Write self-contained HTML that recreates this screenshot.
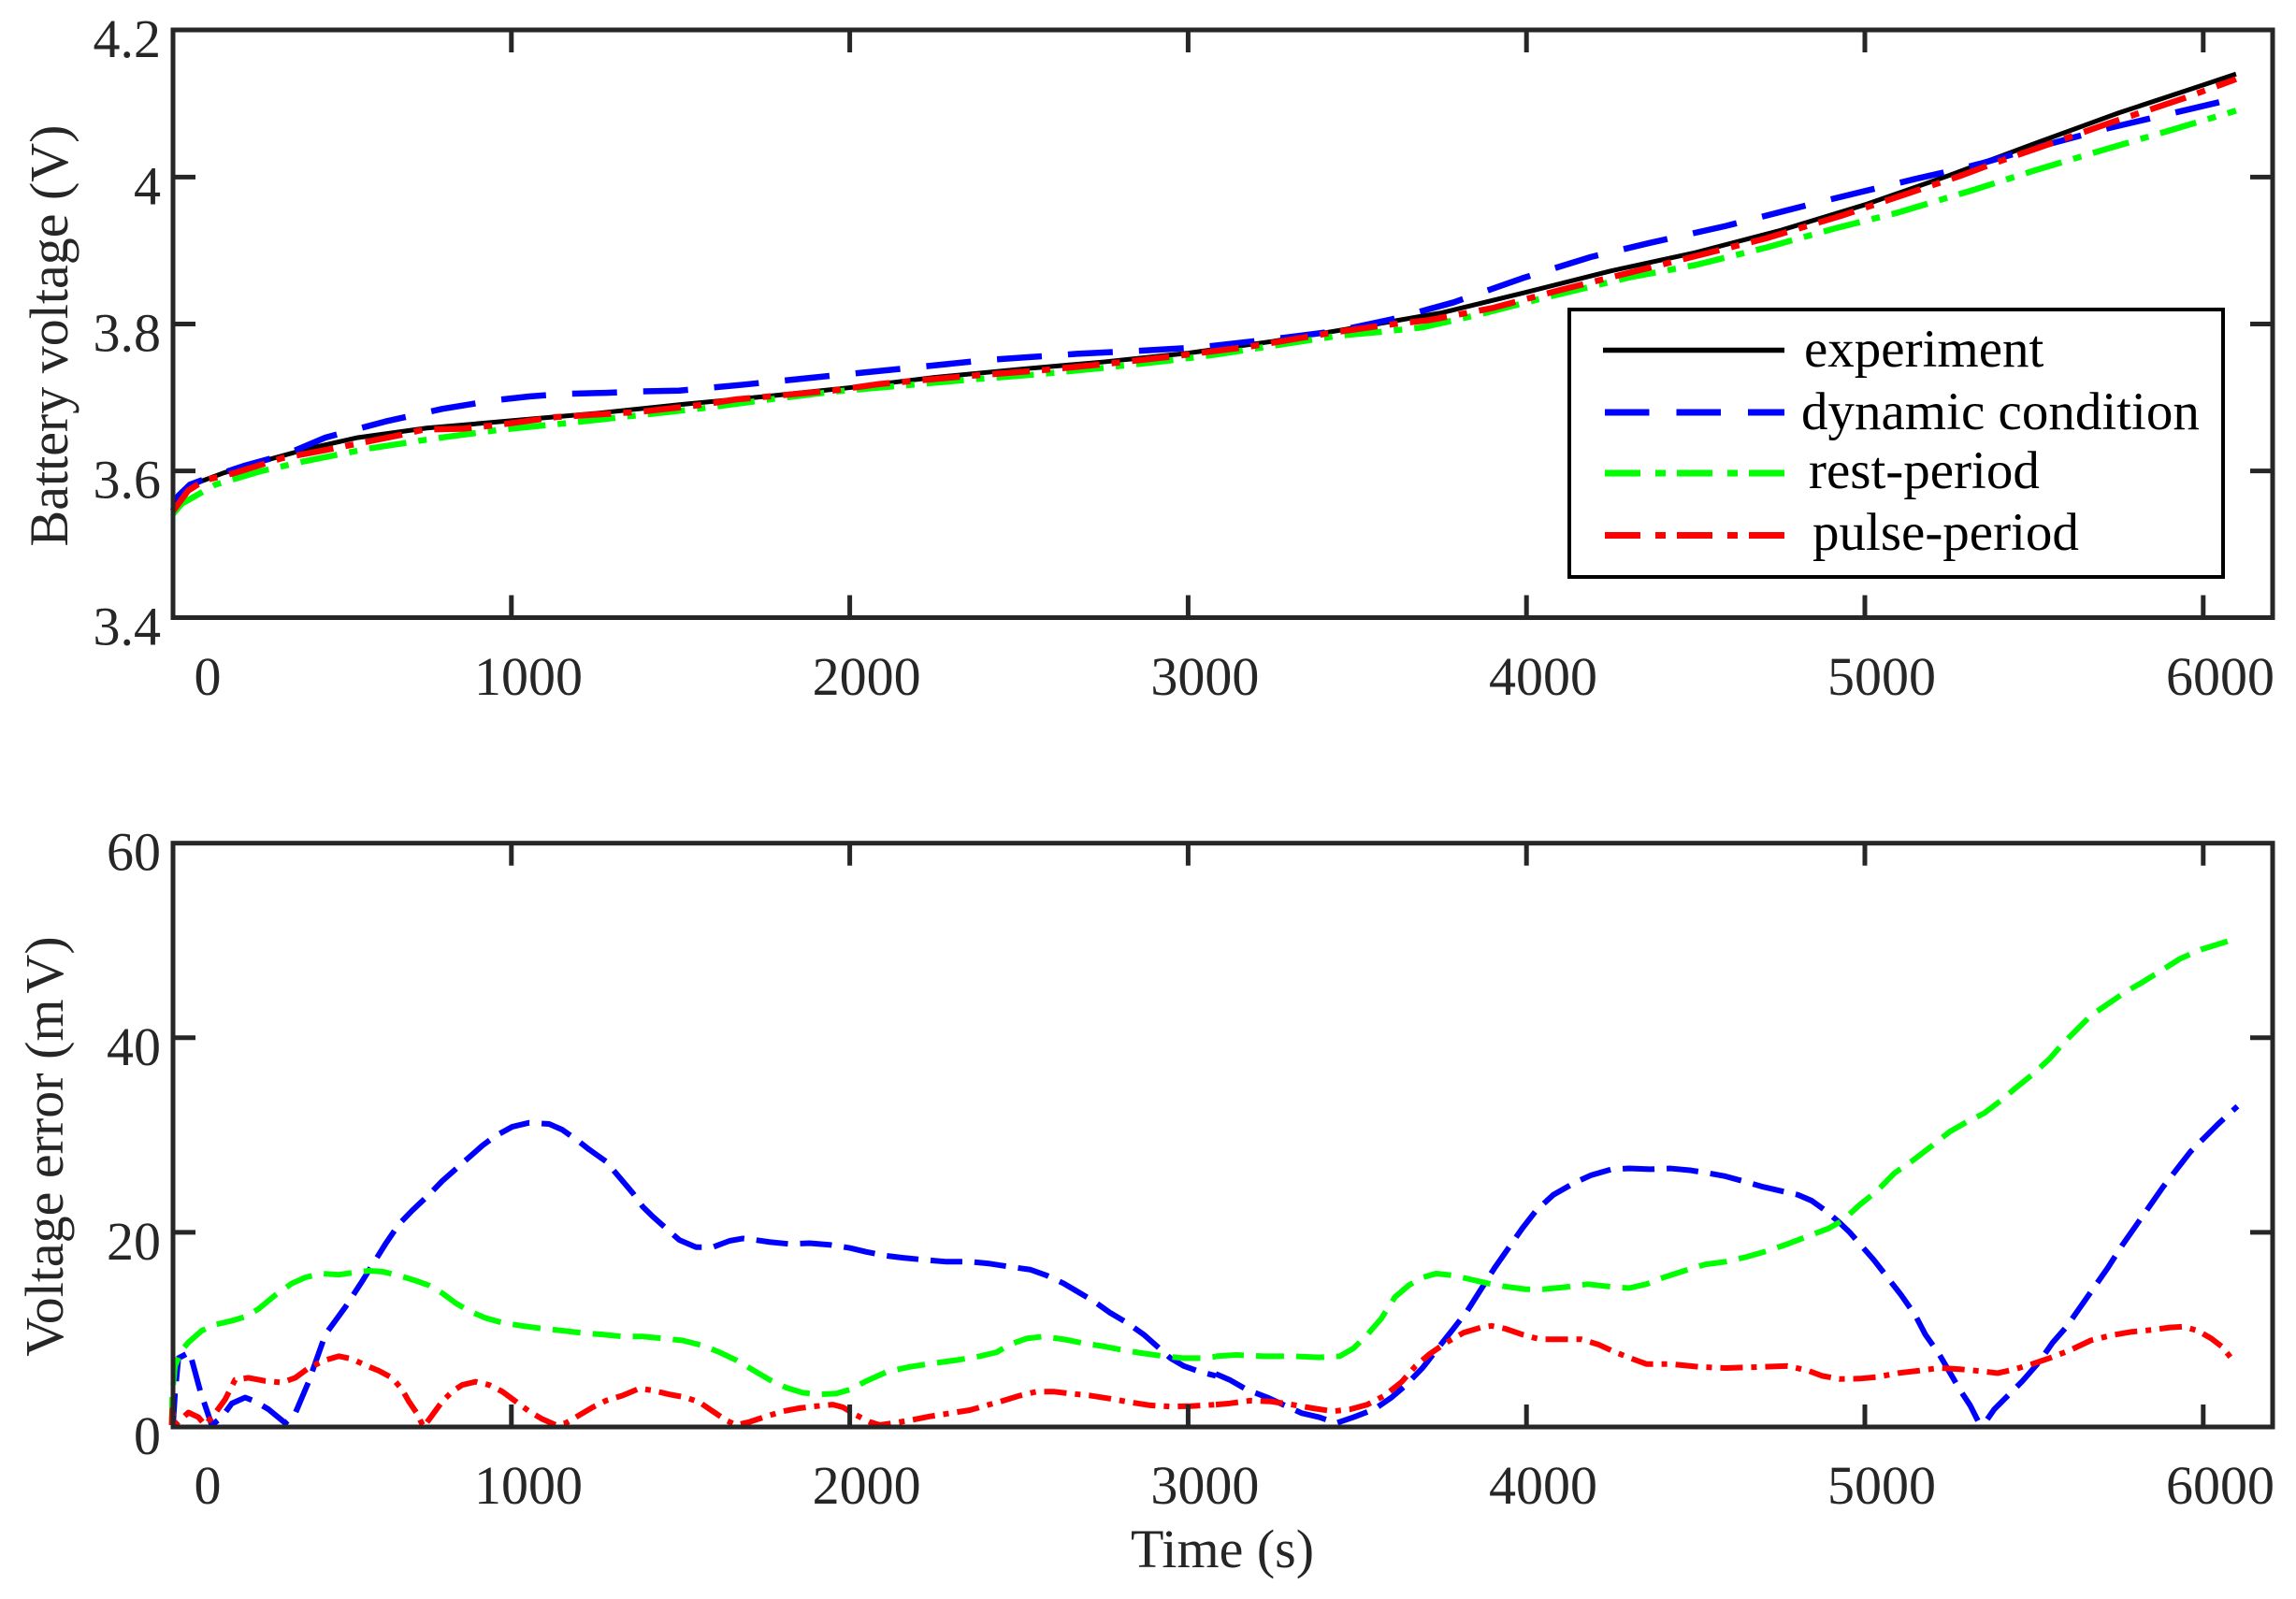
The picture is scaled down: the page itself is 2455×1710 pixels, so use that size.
<!DOCTYPE html>
<html>
<head>
<meta charset="utf-8">
<style>
html,body{margin:0;padding:0;background:#fff;}
svg{display:block;}
text{font-family:"Liberation Serif","Times New Roman",serif;}
.ax{fill:none;stroke:#262626;stroke-width:5;}
.tk{stroke:#262626;stroke-width:5;}
.tl{font-size:58px;fill:#262626;}
.ln{fill:none;vector-effect:non-scaling-stroke;stroke-linejoin:round;stroke-linecap:butt;}
</style>
</head>
<body>
<svg width="2455" height="1710" viewBox="0 0 2455 1710" xmlns="http://www.w3.org/2000/svg">
<rect x="0" y="0" width="2455" height="1710" fill="#fff"/>

<!-- ===== TOP PLOT ===== -->
<g transform="matrix(0.3618 0 0 -785.6 185 3331.5)">
<polyline class="ln" stroke="#000" stroke-width="5" points="0,3.543 15,3.560 40,3.575 80,3.585 150,3.597 250,3.611 400,3.630 546,3.645 750,3.658 1000,3.668 1250,3.678 1500,3.690 1750,3.701 2000,3.713 2250,3.727 2500,3.738 2750,3.748 3000,3.760 3250,3.776 3500,3.795 3750,3.815 4000,3.843 4250,3.872 4500,3.897 4750,3.927 5000,3.962 5250,4.002 5500,4.045 5750,4.087 6000,4.125 6097,4.140"/>
<polyline class="ln" stroke="#0000ff" stroke-width="6.5" stroke-dasharray="48 28" points="0,3.546 16,3.566 50,3.581 114,3.592 213,3.607 332,3.622 450,3.645 628,3.667 795,3.684 953,3.696 1052,3.701 1151,3.7045 1279,3.706 1388,3.708 1496,3.709 1684,3.717 1940,3.729 2158,3.739 2414,3.751 2671,3.759 2868,3.7635 3036,3.768 3285,3.781 3438,3.790 3601,3.806 3784,3.829 3988,3.862 4191,3.891 4364,3.910 4588,3.933 4843,3.963 4985,3.979 5148,3.997 5281,4.011 5342,4.018 5515,4.041 5718,4.066 5922,4.088 6097,4.107"/>
<polyline class="ln" stroke="#00ff00" stroke-width="6.5" stroke-dasharray="40 13 9 13" points="0,3.541 26,3.555 125,3.581 257,3.599 390,3.613 577,3.630 775,3.644 973,3.656 1170,3.665 1368,3.675 1566,3.685 1763,3.697 1960,3.708 2160,3.716 2355,3.724 2553,3.731 2750,3.740 2946,3.750 3081,3.758 3448,3.784 3570,3.789 3692,3.795 3855,3.812 4050,3.835 4303,3.863 4500,3.880 4711,3.904 4913,3.930 5095,3.951 5320,3.982 5497,4.008 5700,4.036 5900,4.063 6097,4.090"/>
<polyline class="ln" stroke="#ff0000" stroke-width="6.5" stroke-dasharray="40 13 9 13" points="0,3.545 45,3.573 94,3.587 183,3.597 322,3.617 450,3.628 569,3.639 677,3.649 740,3.656 855,3.657 973,3.663 1132,3.673 1378,3.680 1552,3.689 1664,3.697 1950,3.709 2089,3.718 2354,3.729 2552,3.736 2750,3.745 2946,3.755 3183,3.769 3428,3.788 3580,3.798 3713,3.805 3896,3.821 4100,3.846 4335,3.873 4706,3.916 4930,3.947 5280,4.001 5391,4.020 5728,4.074 5943,4.107 6097,4.133"/>
</g>

<!-- top axes box and ticks -->
<rect class="ax" x="185" y="32" width="2245" height="628.5"/>
<g class="tk">
<line x1="546.8" y1="660.5" x2="546.8" y2="636.5"/><line x1="908.6" y1="660.5" x2="908.6" y2="636.5"/>
<line x1="1270.4" y1="660.5" x2="1270.4" y2="636.5"/><line x1="1632.2" y1="660.5" x2="1632.2" y2="636.5"/>
<line x1="1994" y1="660.5" x2="1994" y2="636.5"/><line x1="2355.8" y1="660.5" x2="2355.8" y2="636.5"/>
<line x1="546.8" y1="32" x2="546.8" y2="56"/><line x1="908.6" y1="32" x2="908.6" y2="56"/>
<line x1="1270.4" y1="32" x2="1270.4" y2="56"/><line x1="1632.2" y1="32" x2="1632.2" y2="56"/>
<line x1="1994" y1="32" x2="1994" y2="56"/><line x1="2355.8" y1="32" x2="2355.8" y2="56"/>
<line x1="185" y1="189.4" x2="209" y2="189.4"/><line x1="185" y1="346.5" x2="209" y2="346.5"/><line x1="185" y1="503.6" x2="209" y2="503.6"/>
<line x1="2430" y1="189.4" x2="2406" y2="189.4"/><line x1="2430" y1="346.5" x2="2406" y2="346.5"/><line x1="2430" y1="503.6" x2="2406" y2="503.6"/>
</g>
<g class="tl" text-anchor="end">
<text x="172" y="61">4.2</text>
<text x="172" y="218.4">4</text>
<text x="172" y="375.5">3.8</text>
<text x="172" y="532.6">3.6</text>
<text x="172" y="689.5">3.4</text>
</g>
<g class="tl" text-anchor="middle">
<text x="222" y="743">0</text>
<text x="565" y="743">1000</text>
<text x="926.6" y="743">2000</text>
<text x="1288.4" y="743">3000</text>
<text x="1650" y="743">4000</text>
<text x="2012" y="743">5000</text>
<text x="2374" y="743">6000</text>
</g>
<text class="tl" transform="translate(72,359) rotate(-90)" text-anchor="middle">Battery voltage (V)</text>

<!-- legend -->
<rect x="1678" y="331" width="699" height="286" fill="#fff" stroke="#000" stroke-width="4"/>
<line x1="1714" y1="374.5" x2="1908" y2="374.5" stroke="#000" stroke-width="5.5"/>
<line x1="1716" y1="441" x2="1908" y2="441" stroke="#0000ff" stroke-width="7" stroke-dasharray="47.5 29"/>
<line x1="1716" y1="506" x2="1908" y2="506" stroke="#00ff00" stroke-width="7" stroke-dasharray="38 16 11 12"/>
<line x1="1716" y1="572.5" x2="1908" y2="572.5" stroke="#ff0000" stroke-width="7" stroke-dasharray="38 16 11 12"/>
<g style="font-size:57px;fill:#000;">
<text x="1929" y="392">experiment</text>
<text x="1926" y="459">dynamic condition</text>
<text x="1934" y="522">rest-period</text>
<text x="1938" y="588">pulse-period</text>
</g>

<!-- ===== BOTTOM PLOT ===== -->
<g transform="matrix(0.7143 0 0 0.4209 180 880)">
<polyline class="ln" stroke="#0000ff" stroke-width="6" stroke-dasharray="34 13" points="7,1530 10,1450 15,1360 32,1345 48,1445 65,1530 80,1510 95,1475 115,1460 130,1470 150,1490 175,1525 190,1500 210,1420 235,1300 265,1230 290,1165 325,1070 345,1020 365,985 390,945 410,910 430,880 450,850 470,820 490,795 515,772 540,762 570,765 590,780 615,810 630,830 655,860 675,900 695,940 710,975 725,1000 745,1030 765,1060 790,1078 815,1078 840,1062 860,1056 880,1060 900,1065 930,1070 960,1068 990,1072 1020,1080 1045,1090 1075,1100 1100,1105 1130,1110 1165,1115 1200,1115 1230,1120 1260,1128 1290,1135 1315,1150 1340,1170 1360,1190 1385,1215 1410,1245 1435,1270 1460,1300 1480,1330 1500,1360 1520,1380 1545,1395 1568,1405"/>
<polyline class="ln" stroke="#00ff00" stroke-width="6" stroke-dasharray="30 13" points="5,1530 6,1450 10,1380 20,1340 30,1320 50,1290 70,1275 95,1265 115,1255 135,1235 160,1200 185,1170 205,1155 230,1145 255,1148 280,1142 300,1138 320,1140 345,1150 370,1163 390,1175 410,1195 430,1220 450,1240 475,1258 500,1270 530,1278 560,1285 590,1290 620,1296 650,1300 680,1305 710,1305 740,1310 770,1315 800,1328 825,1345 850,1365 875,1390 900,1415 925,1435 950,1448 975,1452 1000,1450 1020,1440 1045,1418 1075,1395 1110,1382 1145,1373 1180,1365 1215,1355 1240,1345 1260,1325 1285,1310 1310,1305 1340,1312 1370,1322 1400,1330 1430,1340 1460,1348 1490,1355 1520,1360 1545,1360 1568,1356"/>
<polyline class="ln" stroke="#ff0000" stroke-width="6" stroke-dasharray="24 9 6 9" points="5,1530 6,1490 10,1530 30,1498 45,1510 55,1530 70,1500 85,1465 100,1415 120,1410 145,1418 170,1422 190,1410 210,1385 235,1365 255,1355 275,1362 295,1378 315,1392 335,1410 350,1440 360,1470 372,1500 382,1535 395,1505 410,1470 425,1445 440,1428 460,1420 480,1428 500,1445 520,1470 540,1495 560,1515 580,1530 595,1525 615,1505 635,1485 655,1468 680,1455 705,1437 725,1442 750,1452 775,1460 795,1472 815,1495 835,1518 850,1530 870,1522 895,1508 920,1495 945,1487 970,1482 995,1478 1010,1485 1030,1505 1050,1522 1065,1530 1085,1525 1110,1518 1140,1508 1170,1500 1200,1492 1225,1480 1250,1468 1275,1455 1300,1445 1325,1445 1350,1450 1380,1455 1410,1463 1440,1472 1470,1480 1500,1483 1530,1482 1568,1478"/>
</g>
<g transform="matrix(0.7366 0 0 0.4209 1300 880)">
<polyline class="ln" stroke="#0000ff" stroke-width="6" stroke-dasharray="34 13" points="0,1400 20,1415 45,1440 75,1460 100,1480 125,1500 150,1510 175,1525 200,1510 230,1490 255,1460 275,1430 300,1385 320,1340 345,1285 365,1240 385,1185 405,1130 425,1080 445,1030 465,985 490,945 520,915 545,895 575,880 600,878 630,880 660,878 690,883 715,890 740,898 765,910 795,925 820,935 845,945 865,960 885,985 905,1015 920,1040 935,1070 955,1110 975,1155 995,1200 1015,1250 1030,1300 1050,1350 1065,1395 1080,1440 1095,1480 1108,1525 1118,1520 1130,1490 1150,1455 1170,1420 1195,1370 1215,1320 1235,1280 1255,1230 1275,1180 1295,1130 1315,1075 1335,1025 1355,975 1375,925 1395,880 1415,835 1435,800 1455,765 1483,720"/>
<polyline class="ln" stroke="#00ff00" stroke-width="6" stroke-dasharray="30 13" points="0,1355 30,1352 70,1355 110,1355 150,1358 180,1355 200,1335 220,1300 240,1260 260,1205 280,1175 300,1155 320,1145 345,1150 370,1160 395,1170 420,1178 450,1185 475,1185 505,1180 540,1172 570,1178 600,1182 625,1172 650,1155 680,1138 710,1122 740,1115 770,1103 800,1088 830,1070 860,1050 890,1030 910,1010 935,970 960,935 985,890 1010,860 1040,820 1065,785 1090,760 1115,738 1140,705 1160,675 1185,640 1210,600 1230,560 1250,525 1270,490 1295,460 1320,430 1345,405 1370,378 1400,345 1430,322 1470,300"/>
<polyline class="ln" stroke="#ff0000" stroke-width="6" stroke-dasharray="24 9 6 9" points="0,1478 20,1475 50,1468 80,1470 110,1478 140,1487 170,1495 195,1490 220,1478 245,1455 270,1420 290,1380 310,1350 335,1320 360,1295 385,1282 400,1278 420,1285 445,1300 470,1312 500,1312 530,1312 555,1325 580,1345 605,1362 625,1375 660,1375 700,1382 740,1385 780,1383 830,1380 860,1392 880,1405 905,1413 935,1412 960,1408 990,1398 1020,1392 1050,1385 1080,1388 1110,1393 1135,1398 1160,1388 1185,1375 1210,1360 1240,1340 1270,1315 1300,1302 1330,1293 1360,1288 1385,1282 1405,1280 1425,1290 1445,1310 1460,1330 1475,1362"/>
</g>

<!-- bottom axes box and ticks -->
<rect class="ax" x="185" y="901.7" width="2245" height="624.3"/>
<g class="tk">
<line x1="546.8" y1="1526" x2="546.8" y2="1502"/><line x1="908.6" y1="1526" x2="908.6" y2="1502"/>
<line x1="1270.4" y1="1526" x2="1270.4" y2="1502"/><line x1="1632.2" y1="1526" x2="1632.2" y2="1502"/>
<line x1="1994" y1="1526" x2="1994" y2="1502"/><line x1="2355.8" y1="1526" x2="2355.8" y2="1502"/>
<line x1="546.8" y1="901.7" x2="546.8" y2="925.7"/><line x1="908.6" y1="901.7" x2="908.6" y2="925.7"/>
<line x1="1270.4" y1="901.7" x2="1270.4" y2="925.7"/><line x1="1632.2" y1="901.7" x2="1632.2" y2="925.7"/>
<line x1="1994" y1="901.7" x2="1994" y2="925.7"/><line x1="2355.8" y1="901.7" x2="2355.8" y2="925.7"/>
<line x1="185" y1="1109.8" x2="209" y2="1109.8"/><line x1="185" y1="1317.9" x2="209" y2="1317.9"/>
<line x1="2430" y1="1109.8" x2="2406" y2="1109.8"/><line x1="2430" y1="1317.9" x2="2406" y2="1317.9"/>
</g>
<g class="tl" text-anchor="end">
<text x="172" y="930.7">60</text>
<text x="172" y="1138.8">40</text>
<text x="172" y="1346.9">20</text>
<text x="172" y="1555">0</text>
</g>
<g class="tl" text-anchor="middle">
<text x="222" y="1608">0</text>
<text x="565" y="1608">1000</text>
<text x="926.6" y="1608">2000</text>
<text x="1288.4" y="1608">3000</text>
<text x="1650" y="1608">4000</text>
<text x="2012" y="1608">5000</text>
<text x="2374" y="1608">6000</text>
</g>
<text class="tl" transform="translate(67,1226) rotate(-90)" text-anchor="middle">Voltage error (m<tspan dx="6">V)</tspan></text>
<text class="tl" x="1307" y="1676" text-anchor="middle">Time (s)</text>
</svg>
</body>
</html>
